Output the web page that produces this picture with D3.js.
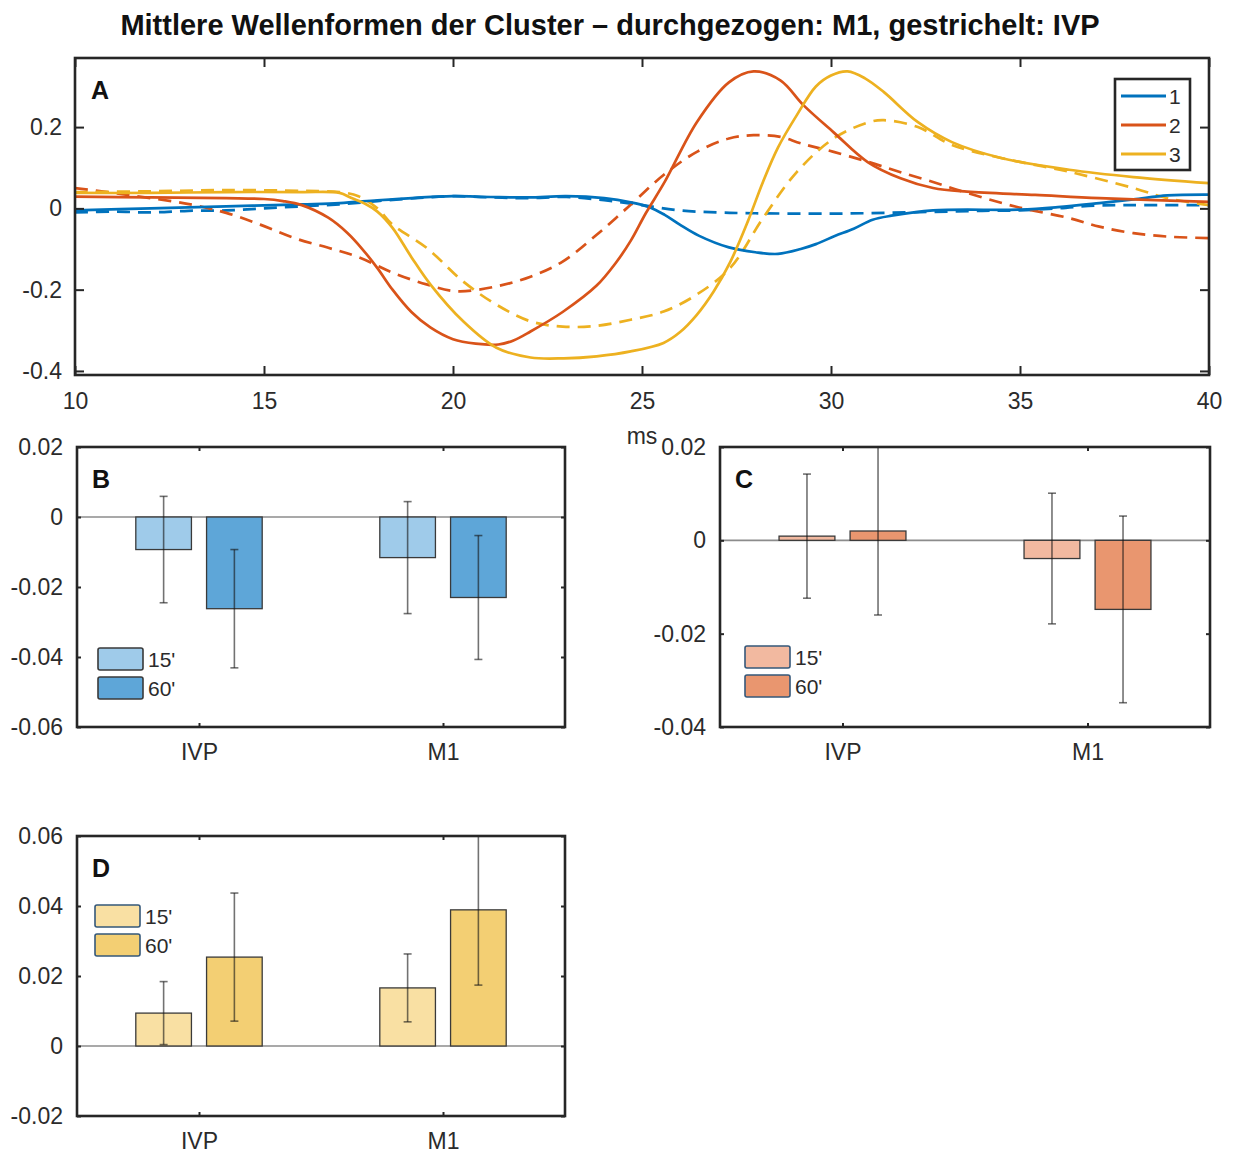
<!DOCTYPE html>
<html><head><meta charset="utf-8">
<script src="https://cdn.jsdelivr.net/npm/d3@7"></script>
<style>body{margin:0;background:#fff} text{font-family:"Liberation Sans",Arial,Helvetica,sans-serif}</style>
</head><body><svg id="c" width="1234" height="1153"></svg>
<script>
// ---------- Data ----------
const titleText = "Mittlere Wellenformen der Cluster \u2013 durchgezogen: M1, gestrichelt: IVP";
const msTicks = [10, 15, 20, 25, 30, 35, 40];
const ampTicks = [-0.4, -0.2, 0, 0.2];
const clusterNames = ["1", "2", "3"];
const clusterColors = ["#0072BD", "#D95319", "#EDB120"];

// cluster 1 (solid = M1, dashed = IVP)  [ms, amplitude]
const c1M1 = [[10,-0.005],[12,0.0],[14,0.005],[16,0.01],[17,0.013],[18,0.02],[19,0.026],[20,0.03],[21,0.028],[22,0.027],[23,0.03],[24,0.025],[24.7,0.015],[25.2,0.003],[25.6,-0.016],[26,-0.04],[26.5,-0.067],[27.3,-0.096],[28,-0.108],[28.6,-0.112],[29.2,-0.1],[29.6,-0.088],[30.1,-0.068],[30.6,-0.05],[31.1,-0.028],[31.6,-0.018],[32.7,-0.005],[35,-0.003],[36,0.003],[37.1,0.013],[38,0.022],[38.9,0.032],[40,0.034]];
const c1IVP = [[10,-0.01],[11,-0.008],[12,-0.01],[13,-0.006],[14,-0.005],[15,0.0],[16,0.005],[17,0.01],[18,0.018],[19,0.025],[20,0.03],[21,0.027],[22,0.025],[23,0.028],[24,0.02],[25,0.008],[26,-0.005],[27,-0.01],[28,-0.012],[30,-0.013],[32,-0.01],[34,-0.006],[35,-0.005],[36,0.0],[37,0.007],[38,0.008],[40,0.008]];
// cluster 2
const c2M1 = [[10,0.029],[12,0.027],[14,0.025],[15,0.023],[15.5,0.018],[16,0.008],[16.7,-0.023],[17.2,-0.06],[17.6,-0.1],[18,-0.147],[18.4,-0.2],[18.9,-0.255],[19.4,-0.293],[20,-0.322],[20.6,-0.333],[21.2,-0.335],[21.6,-0.325],[22.05,-0.303],[22.9,-0.255],[23.8,-0.19],[24.3,-0.135],[24.7,-0.08],[25.1,-0.012],[25.6,0.065],[26.45,0.212],[27.3,0.31],[27.95,0.337],[28.66,0.315],[29.27,0.254],[30.07,0.187],[30.97,0.114],[31.84,0.074],[32.7,0.05],[33.6,0.041],[35.4,0.033],[37.1,0.025],[40,0.016]];
const c2IVP = [[10,0.05],[11.4,0.033],[13.1,0.009],[14,-0.011],[14.9,-0.04],[15.8,-0.073],[16.7,-0.097],[17.5,-0.12],[18.4,-0.158],[19.3,-0.187],[20.1,-0.204],[21.15,-0.192],[22.05,-0.168],[22.9,-0.131],[23.8,-0.065],[24.7,0.009],[25.57,0.082],[26.45,0.139],[27.3,0.172],[27.95,0.18],[28.66,0.176],[29.2,0.16],[30.07,0.139],[31,0.114],[31.8,0.09],[32.7,0.065],[33.6,0.038],[34.9,0.004],[36.3,-0.024],[37.1,-0.045],[38,-0.061],[39,-0.07],[40,-0.073]];
// cluster 3
const c3M1 = [[10,0.038],[12,0.038],[14,0.04],[16,0.04],[17,0.038],[17.3,0.026],[17.7,0.01],[18,-0.008],[18.4,-0.048],[18.9,-0.12],[19.4,-0.187],[20.27,-0.278],[21.15,-0.343],[22.05,-0.367],[22.93,-0.369],[23.8,-0.364],[24.7,-0.352],[25.57,-0.331],[26,-0.305],[26.45,-0.262],[26.9,-0.204],[27.34,-0.131],[27.8,-0.032],[28.2,0.065],[28.6,0.15],[29.1,0.23],[29.6,0.3],[30,0.327],[30.44,0.337],[30.9,0.32],[31.4,0.286],[32.3,0.212],[33.2,0.163],[34.5,0.124],[36.3,0.095],[38,0.077],[40,0.062]];
const c3IVP = [[10,0.04],[12,0.042],[14,0.045],[16,0.043],[17,0.04],[17.5,0.03],[18,0.0],[18.4,-0.04],[19.3,-0.097],[20.27,-0.18],[21.15,-0.237],[22.05,-0.278],[22.9,-0.291],[23.8,-0.289],[24.7,-0.274],[25.57,-0.254],[26.45,-0.212],[27.34,-0.146],[28.2,-0.024],[29.1,0.09],[30.07,0.172],[31,0.212],[31.4,0.217],[32.3,0.2],[33.2,0.156],[34.5,0.124],[36.3,0.09],[38,0.05],[38.9,0.025],[40,0.008]];

const regions = ["IVP", "M1"];
const times = ["15'", "60'"];
// panel B (cluster 1)
const bMean15 = [-0.0093, -0.0116], bErr15 = [0.0152, 0.016];
const bMean60 = [-0.0262, -0.023],  bErr60 = [0.0169, 0.0177];
const bTicks = [-0.06, -0.04, -0.02, 0, 0.02];
// panel C (cluster 2)
const cMean15 = [0.0009, -0.0039], cErr15 = [0.0133, 0.014];
const cMean60 = [0.002, -0.0148],  cErr60 = [0.018, 0.02];
const cTicks = [-0.04, -0.02, 0, 0.02];
// panel D (cluster 3)
const dMean15 = [0.0094, 0.0166], dErr15 = [0.009, 0.0097];
const dMean60 = [0.0254, 0.0389], dErr60 = [0.0183, 0.0215];
const dTicks = [-0.02, 0, 0.02, 0.04, 0.06];

// ---------- Drawing ----------
const svg = d3.select("#c");
const AX = "#262626", TXT = "#2b2b2b", FS = 23;
const fmt = d => d === 0 ? "0" : String(d);

svg.append("text").attr("x", 610).attr("y", 35).attr("text-anchor", "middle")
  .attr("font-weight", "bold").attr("font-size", 29).attr("fill", "#111").text(titleText);

function styleAxis(g){
  g.select(".domain").remove();
  g.selectAll(".tick line").attr("stroke", AX).attr("stroke-width", 2);
  g.selectAll(".tick text").attr("fill", TXT).attr("font-size", FS)
    .attr("font-family", '"Liberation Sans",Arial,sans-serif');
}

// ---- Panel A ----
(function(){
  const L=75, R=1209, T=58, B=375;
  const x = d3.scaleLinear([10,40],[L,R]);
  const y = d3.scaleLinear([-0.41,0.37],[B,T]);
  svg.append("clipPath").attr("id","clipA").append("rect").attr("x",L).attr("y",T).attr("width",R-L).attr("height",B-T);
  const line = d3.line().x(d=>x(d[0])).y(d=>y(d[1])).curve(d3.curveCatmullRom.alpha(0.5));
  const g = svg.append("g").attr("clip-path","url(#clipA)");
  const series = [[c1M1,c1IVP],[c2M1,c2IVP],[c3M1,c3IVP]];
  series.forEach((s,i)=>{
    g.append("path").attr("d",line(s[1])).attr("fill","none").attr("stroke",clusterColors[i])
      .attr("stroke-width",2.7).attr("stroke-dasharray","13,8");
  });
  series.forEach((s,i)=>{
    g.append("path").attr("d",line(s[0])).attr("fill","none").attr("stroke",clusterColors[i])
      .attr("stroke-width",2.7);
  });
  svg.append("g").attr("transform",`translate(0,${B})`)
    .call(d3.axisBottom(x).tickValues(msTicks).tickSize(-9).tickPadding(18).tickFormat(d3.format("d"))).call(styleAxis);
  svg.append("g").attr("transform",`translate(0,${T})`)
    .call(d3.axisTop(x).tickValues(msTicks).tickSize(-9).tickFormat("")).call(styleAxis);
  svg.append("g").attr("transform",`translate(${L},0)`)
    .call(d3.axisLeft(y).tickValues(ampTicks).tickSize(-9).tickPadding(13).tickFormat(fmt)).call(styleAxis);
  svg.append("g").attr("transform",`translate(${R},0)`)
    .call(d3.axisRight(y).tickValues(ampTicks).tickSize(-9).tickFormat("")).call(styleAxis);
  svg.append("rect").attr("x",L).attr("y",T).attr("width",R-L).attr("height",B-T)
    .attr("fill","none").attr("stroke",AX).attr("stroke-width",2.6);
  svg.append("text").attr("x",L+16).attr("y",T+41).attr("font-weight","bold").attr("font-size",25).attr("fill","#111").text("A");
  svg.append("text").attr("x",642).attr("y",444).attr("text-anchor","middle").attr("font-size",FS).attr("fill",TXT).text("ms");
  // legend
  const lg = svg.append("g");
  lg.append("rect").attr("x",1115).attr("y",79).attr("width",75).attr("height",91).attr("fill","#fff")
    .attr("stroke",AX).attr("stroke-width",2.6);
  clusterNames.forEach((n,i)=>{
    const yy = 96 + i*29;
    lg.append("line").attr("x1",1121).attr("x2",1166).attr("y1",yy).attr("y2",yy)
      .attr("stroke",clusterColors[i]).attr("stroke-width",2.8);
    lg.append("text").attr("x",1169).attr("y",yy+8).attr("font-size",21).attr("fill",TXT).text(n);
  });
})();

// ---- Bar panels ----
function barPanel(o){
  const {L,R,T,B,dom,ticks,m15,e15,m60,e60,cols,letter,legY,legX,legStroke} = o;
  const x = d3.scaleLinear([0.5,2.5],[L,R]);
  const y = d3.scaleLinear(dom,[B,T]);
  const off = 0.145, bw = 0.228;
  const id = "clip"+letter;
  svg.append("clipPath").attr("id",id).append("rect").attr("x",L).attr("y",T).attr("width",R-L).attr("height",B-T);
  const g = svg.append("g").attr("clip-path",`url(#${id})`);
  const sets = [[m15,e15,-off,cols[0]],[m60,e60,off,cols[1]]];
  g.append("line").attr("x1",L).attr("x2",R).attr("y1",y(0)).attr("y2",y(0)).attr("stroke","#8c8c8c").attr("stroke-width",1.6);
  sets.forEach(([m,e,dx,col])=>{
    regions.forEach((r,i)=>{
      const cx = i+1+dx;
      g.append("rect").attr("x",x(cx-bw/2)).attr("width",x(cx+bw/2)-x(cx-bw/2))
        .attr("y",y(Math.max(0,m[i]))).attr("height",Math.abs(y(m[i])-y(0)))
        .attr("fill",col).attr("stroke","#3a3a3a").attr("stroke-width",1.3);
    });
  });
  sets.forEach(([m,e,dx])=>{
    regions.forEach((r,i)=>{
      const px = x(i+1+dx);
      const eg = g.append("g").attr("stroke","rgba(20,20,20,0.6)").attr("stroke-width",1.6);
      eg.append("line").attr("x1",px).attr("x2",px).attr("y1",y(m[i]+e[i])).attr("y2",y(m[i]-e[i]));
      [m[i]+e[i], m[i]-e[i]].forEach(v=>eg.append("line").attr("x1",px-4).attr("x2",px+4).attr("y1",y(v)).attr("y2",y(v)));
    });
  });
  svg.append("g").attr("transform",`translate(0,${B})`)
    .call(d3.axisBottom(x).tickValues([1,2]).tickSize(-4).tickPadding(17).tickFormat((d,i)=>regions[i])).call(styleAxis);
  svg.append("g").attr("transform",`translate(0,${T})`)
    .call(d3.axisTop(x).tickValues([1,2]).tickSize(-4).tickFormat("")).call(styleAxis);
  svg.append("g").attr("transform",`translate(${L},0)`)
    .call(d3.axisLeft(y).tickValues(ticks).tickSize(-4).tickPadding(14).tickFormat(fmt)).call(styleAxis);
  svg.append("g").attr("transform",`translate(${R},0)`)
    .call(d3.axisRight(y).tickValues(ticks).tickSize(-4).tickFormat("")).call(styleAxis);
  svg.append("rect").attr("x",L).attr("y",T).attr("width",R-L).attr("height",B-T)
    .attr("fill","none").attr("stroke",AX).attr("stroke-width",2.6);
  svg.append("text").attr("x",L+15).attr("y",T+41).attr("font-weight","bold").attr("font-size",25).attr("fill","#111").text(letter);
  times.forEach((t,i)=>{
    const yy = legY + i*29;
    svg.append("rect").attr("x",legX).attr("y",yy).attr("width",45).attr("height",22).attr("rx",2)
      .attr("fill",cols[i]).attr("stroke",legStroke).attr("stroke-width",1.6);
    svg.append("text").attr("x",legX+50).attr("y",yy+19).attr("font-size",21).attr("fill",TXT).text(t);
  });
}

barPanel({L:77,R:565,T:447,B:727,dom:[-0.06,0.02],ticks:bTicks,m15:bMean15,e15:bErr15,m60:bMean60,e60:bErr60,
  cols:["#9fcbea","#5ea6d8"],letter:"B",legX:98,legY:648,legStroke:"#3a3a3a"});
barPanel({L:720,R:1210,T:447,B:727,dom:[-0.04,0.02],ticks:cTicks,m15:cMean15,e15:cErr15,m60:cMean60,e60:cErr60,
  cols:["#f2b9a0","#e9966f"],letter:"C",legX:745,legY:646,legStroke:"#35587a"});
barPanel({L:77,R:565,T:836,B:1116,dom:[-0.02,0.06],ticks:dTicks,m15:dMean15,e15:dErr15,m60:dMean60,e60:dErr60,
  cols:["#f9e0a3","#f3cf73"],letter:"D",legX:95,legY:905,legStroke:"#35587a"});
</script></body></html>
